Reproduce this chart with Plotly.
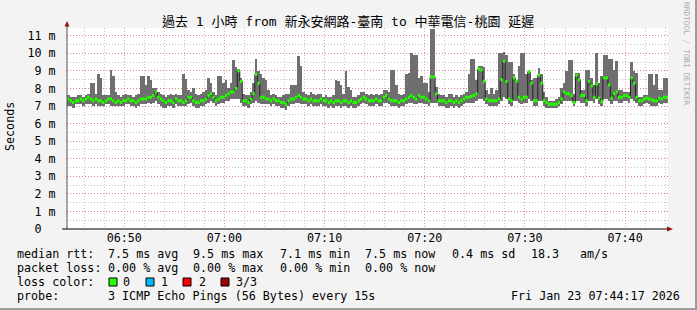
import plotly.graph_objects as go
import pandas as pd

# ---------------- data ----------------
start_time = "2026-01-23 06:44:17"
end_time = "2026-01-23 07:44:17"
step_seconds = 15

median_ms = [
    7.4, 7.3, 7.2, 7.3, 7.3, 7.4, 7.3, 7.4, 7.5, 7.4,
    7.3, 7.4, 7.3, 7.3, 7.2, 7.3, 7.4, 7.4, 7.3, 7.2,
    7.3, 7.2, 7.3, 7.3, 7.4, 7.3, 7.3, 7.2, 7.3, 7.4,
    7.4, 7.4, 7.5, 7.5, 7.6, 7.8, 7.5, 7.4, 7.3, 7.2,
    7.3, 7.3, 7.2, 7.4, 7.3, 7.3, 7.2, 7.3, 7.5, 7.5,
    7.3, 7.2, 7.2, 7.3, 7.3, 7.4, 7.6, 7.7, 7.5, 7.3,
    7.4, 7.5, 7.5, 7.6, 7.7, 7.8, 7.8, 8.0, 9.0, 8.4,
    7.3, 7.3, 7.2, 7.4, 7.7, 8.8, 8.3, 7.5, 7.5, 7.4,
    7.4, 7.3, 7.4, 7.3, 7.3, 7.2, 7.2, 7.1, 7.3, 7.4,
    7.4, 7.5, 7.6, 7.5, 7.4, 7.4, 7.3, 7.4, 7.3, 7.3,
    7.3, 7.4, 7.3, 7.3, 7.2, 7.3, 7.2, 7.3, 7.3, 7.2,
    7.3, 7.3, 7.2, 7.3, 7.2, 7.2, 7.3, 7.4, 7.5, 7.4,
    7.3, 7.3, 7.3, 7.4, 7.3, 7.3, 7.5, 7.6, 7.4, 7.3,
    7.3, 7.3, 7.2, 7.3, 7.3, 7.4, 7.5, 7.6, 7.5, 7.4,
    7.6, 7.5, 7.5, 7.4, 7.3, 8.65, 8.65, 7.7, 7.3, 7.3,
    7.3, 7.2, 7.3, 7.3, 7.2, 7.3, 7.2, 7.3, 7.4, 7.5,
    7.5, 7.55, 7.6, 7.7, 9.1, 9.05, 8.4, 7.4, 7.3, 7.3,
    7.3, 7.3, 7.4, 8.5, 9.55, 8.4, 7.4, 7.3, 8.6, 8.4,
    7.5, 7.4, 7.5, 7.5, 8.95, 8.3, 7.3, 7.3, 8.75, 8.3,
    7.3, 7.2, 7.1, 7.1, 7.1, 7.1, 7.2, 7.4, 7.8, 7.7,
    7.7, 7.6, 7.2, 8.75, 8.5, 7.6, 7.6, 7.3, 8.4, 8.15,
    7.5, 8.25, 7.45, 7.25, 8.6, 8.6, 8.2, 7.45, 7.7, 7.8,
    7.5, 7.5, 7.6, 7.6, 7.5, 8.6, 8.3, 7.5, 7.3, 7.3,
    7.4, 7.45, 7.4, 7.35, 7.3, 7.3, 7.45, 7.4, 7.5, 7.5,
]

min_ms = [
    7.0, 7.0, 6.9, 7.1, 7.1, 7.1, 7.0, 7.1, 7.1, 7.1,
    7.0, 7.1, 7.0, 7.0, 7.0, 7.1, 7.1, 7.0, 7.0, 7.0,
    7.0, 7.0, 7.0, 7.1, 7.1, 7.0, 7.0, 6.9, 7.0, 7.1,
    7.1, 7.1, 7.2, 7.1, 7.2, 7.3, 7.1, 7.0, 6.9, 6.9,
    7.0, 7.0, 6.9, 7.1, 7.0, 7.0, 7.0, 7.0, 7.1, 7.2,
    7.0, 6.9, 6.9, 7.0, 7.0, 7.1, 7.2, 7.3, 7.2, 7.0,
    7.1, 7.2, 7.2, 7.3, 7.3, 7.4, 7.4, 7.4, 7.4, 7.2,
    7.0, 7.0, 6.9, 7.1, 7.2, 7.3, 7.2, 7.1, 7.1, 7.1,
    7.1, 7.0, 7.1, 7.0, 7.0, 6.9, 6.9, 6.8, 7.0, 7.1,
    7.1, 7.2, 7.2, 7.1, 7.1, 7.1, 7.0, 7.1, 7.0, 7.0,
    7.0, 7.1, 7.0, 7.0, 6.9, 7.0, 6.9, 7.0, 7.0, 6.9,
    7.0, 7.0, 6.9, 7.0, 6.9, 6.9, 7.0, 7.1, 7.2, 7.1,
    7.0, 7.0, 7.0, 7.1, 7.0, 7.0, 7.2, 7.2, 7.1, 7.0,
    7.0, 7.0, 6.9, 7.0, 7.0, 7.1, 7.2, 7.2, 7.1, 7.1,
    7.2, 7.2, 7.1, 7.1, 7.0, 7.2, 7.2, 7.2, 7.0, 7.0,
    7.0, 6.9, 6.9, 7.0, 6.9, 7.0, 6.9, 7.0, 7.1, 7.2,
    7.2, 7.2, 7.2, 7.3, 7.4, 7.4, 7.3, 7.1, 7.0, 7.0,
    7.0, 7.0, 7.1, 7.3, 7.5, 7.4, 7.1, 7.0, 7.3, 7.3,
    7.2, 7.1, 7.2, 7.2, 7.4, 7.3, 7.0, 7.0, 7.3, 7.3,
    7.0, 6.9, 6.9, 6.9, 6.9, 6.9, 7.0, 7.1, 7.3, 7.3,
    7.3, 7.3, 7.0, 7.3, 7.3, 7.2, 7.2, 7.0, 7.3, 7.3,
    7.2, 7.4, 7.1, 7.0, 7.4, 7.4, 7.3, 7.1, 7.3, 7.3,
    7.2, 7.2, 7.3, 7.3, 7.2, 7.4, 7.3, 7.2, 7.0, 7.0,
    7.1, 7.2, 7.1, 7.0, 7.0, 7.0, 7.2, 7.1, 7.2, 7.2,
]

max_ms = [
    7.6, 7.5, 7.5, 7.5, 7.6, 7.6, 7.5, 7.6, 7.7, 8.3,
    8.3, 7.7, 8.8, 8.6, 7.6, 7.6, 7.6, 9.05, 8.7, 7.8,
    7.6, 7.5, 7.6, 7.7, 7.6, 7.6, 7.5, 7.6, 7.7, 8.7,
    8.7, 8.2, 8.7, 8.5, 8.0, 8.0, 7.8, 7.7, 7.6, 7.5,
    7.6, 7.7, 7.6, 7.7, 7.6, 7.6, 8.8, 8.55, 7.9, 7.8,
    8.0, 7.7, 7.6, 7.7, 7.8, 7.9, 8.6, 8.3, 7.8, 7.6,
    8.7, 8.7, 8.3, 8.5, 8.0, 8.3, 9.6, 9.2, 9.1, 8.6,
    7.7, 7.6, 7.6, 7.8, 8.3, 9.7, 9.0, 8.8, 8.6, 8.5,
    7.9, 7.6, 7.7, 7.6, 7.5, 7.5, 7.6, 7.7, 7.7, 8.2,
    8.2, 8.2, 9.85, 9.25, 7.8, 7.7, 7.6, 7.8, 7.7, 7.6,
    7.7, 7.7, 7.5, 7.6, 7.5, 7.5, 7.6, 8.5, 8.4, 8.2,
    7.7, 9.0, 8.1, 7.9, 7.5, 7.5, 7.6, 7.8, 7.8, 7.7,
    7.6, 7.7, 7.6, 7.7, 7.6, 7.7, 7.9, 7.9, 7.8, 9.05,
    9.05, 8.2, 7.7, 7.6, 7.7, 8.85, 8.9, 10.0, 9.9, 9.9,
    8.6, 8.7, 8.3, 8.3, 7.8, 11.4, 11.4, 8.1, 7.7, 7.6,
    7.6, 7.5, 7.7, 7.7, 7.5, 7.6, 7.5, 7.6, 7.7, 7.8,
    8.85, 9.7, 9.7, 8.5, 9.25, 9.3, 9.2, 7.9, 7.7, 8.0,
    7.7, 7.9, 10.0, 10.0, 10.1, 9.9, 9.5, 9.5, 8.8, 8.5,
    9.3, 10.0, 10.0, 8.8, 9.0, 8.5, 8.6, 8.6, 9.15, 8.8,
    7.8, 7.5, 7.3, 7.3, 7.3, 7.4, 7.5, 8.0, 8.3, 9.0,
    9.6, 9.6, 7.7, 8.9, 8.9, 7.9, 7.9, 9.05, 9.05, 8.6,
    8.2, 10.0, 8.3, 8.7, 9.9, 9.9, 9.7, 9.7, 9.05, 9.55,
    7.9, 7.9, 7.8, 7.8, 7.8, 9.5, 9.0, 8.9, 7.5, 7.5,
    7.6, 7.6, 8.85, 8.85, 8.2, 8.85, 7.9, 7.9, 8.6, 8.6,
]

y_tick_values = [0, 1, 2, 3, 4, 5, 6, 7, 8, 9, 10, 11]
y_tick_labels = ["0 <span style='color:rgba(0,0,0,0)'>m</span>", "1 m", "2 m",
                 "3 m", "4 m", "5 m", "6 m", "7 m", "8 m", "9 m", "10 m", "11 m"]

title_text = "過去 1 小時 from 新永安網路-臺南 to 中華電信-桃園 延遲"
rtt_stats = ["median rtt:", "7.5 ms avg", "9.5 ms max", "7.1 ms min",
             "7.5 ms now", "0.4 ms sd", "18.3", "am/s"]
loss_stats = ["packet loss:", "0.00 % avg", "0.00 % max", "0.00 % min",
              "0.00 % now"]
loss_levels = ["0", "1", "2", "3/3"]
loss_colors = ["#26ff00", "#00b8ff", "#ff0000", "#a10000"]
probe_text = "3 ICMP Echo Pings (56 Bytes) every 15s"
stamp_text = "Fri Jan 23 07:44:17 2026"

# ---------------- geometry ----------------
W, H = 697, 310
PL, PR, PT, PB = 67, 668, 28, 229   # plot area in pixels
MONO = "DejaVu Sans Mono, Noto Sans CJK TC, monospace"
FS = 11.7


def px(xp):
    return (xp - PL) / (PR - PL)


def py(yp):
    return (PB - yp) / (PB - PT)


t0 = pd.Timestamp(start_time)
step = pd.Timedelta(seconds=step_seconds)
n = len(median_ms)
starts = [t0 + step * i for i in range(n)]
ends = [s + step for s in starts]
centers = [s + step / 2 for s in starts]

fig = go.Figure()

# smoke (min..max of pings)
fig.add_trace(go.Bar(
    x=centers, y=[h - l for h, l in zip(max_ms, min_ms)], base=min_ms,
    width=step_seconds * 1000, marker=dict(color="#6f6f6f", line=dict(width=0)),
    hoverinfo="skip", showlegend=False))

# median connector (dark step line)
fig.add_trace(go.Scatter(
    x=starts + [ends[-1]], y=median_ms + [median_ms[-1]], mode="lines",
    line=dict(color="#202020", width=1, shape="hv"),
    hoverinfo="skip", showlegend=False))

# median coloured by loss (all 0 loss -> green)
gx, gy = [], []
for s, e, m in zip(starts, ends, median_ms):
    gx += [s, e, None]
    gy += [m, m, None]
fig.add_trace(go.Scatter(
    x=gx, y=gy, mode="lines", line=dict(color=loss_colors[0], width=3),
    hoverinfo="skip", showlegend=False))

shapes = []
# axes
shapes.append(dict(type="line", xref="paper", yref="paper", x0=0, x1=0,
                   y0=0, y1=py(24), line=dict(color="#505050", width=1)))
shapes.append(dict(type="line", xref="paper", yref="paper", x0=px(62), x1=px(668),
                   y0=0, y1=0, line=dict(color="#000000", width=1)))
# arrows
shapes.append(dict(type="path", xref="paper", yref="paper",
                   path=f"M {px(64.5)} {py(26.5)} L {px(69.5)} {py(26.5)} L {px(67)} {py(21)} Z",
                   fillcolor="#9a1010", line=dict(width=0)))
shapes.append(dict(type="path", xref="paper", yref="paper",
                   path=f"M {px(667)} {py(226.5)} L {px(667)} {py(231.5)} L {px(673)} {py(229)} Z",
                   fillcolor="#9a1010", line=dict(width=0)))
# frame
shapes.append(dict(type="line", xref="paper", yref="paper", x0=px(696), x1=px(696),
                   y0=py(0), y1=py(310), line=dict(color="#9c9c9c", width=2)))
shapes.append(dict(type="line", xref="paper", yref="paper", x0=px(0), x1=px(697),
                   y0=py(309), y1=py(309), line=dict(color="#9c9c9c", width=2)))
# loss colour boxes
box_x = [109, 146, 183, 221]
lab_x = [122, 160, 198, 235]
for bx, c in zip(box_x, loss_colors):
    shapes.append(dict(type="rect", xref="paper", yref="paper",
                       x0=px(bx), x1=px(bx + 8), y0=py(278), y1=py(286),
                       fillcolor=c, line=dict(color="#000000", width=1)))

ann = []


def text(t, x, y, anchor="left", size=FS, color="#000000", angle=0):
    ann.append(dict(text=t, xref="paper", yref="paper", x=px(x), y=py(y),
                    xanchor=anchor, yanchor="middle", showarrow=False,
                    textangle=angle, borderpad=0,
                    font=dict(family=MONO, size=size, color=color)))


text(title_text, 348, 21, anchor="center", size=13)
text("Seconds", 10, 127, anchor="center", angle=-90)
text("RRDTOOL / TOBI OETIKER", 686, 54, anchor="center", size=7.8,
     color="#aaaaaa", angle=90)

col_x = [16, 107, 192, 279, 364, 451, 530, 579]
for t, x in zip(rtt_stats, col_x):
    text(t, x, 254)
for t, x in zip(loss_stats, col_x):
    text(t, x, 268)
text("loss color:", 16, 282)
for t, x in zip(loss_levels, lab_x):
    text(t, x, 282)
text("probe:", 16, 296)
text(probe_text, 107, 296)
text(stamp_text, 681, 296, anchor="right")

fig.update_layout(
    width=W, height=H,
    margin=dict(l=PL, r=W - PR, t=PT, b=H - PB, pad=0),
    paper_bgcolor="#f3f3f3", plot_bgcolor="#ffffff",
    barmode="overlay", bargap=0, showlegend=False,
    shapes=shapes, annotations=ann,
    font=dict(family=MONO, size=FS, color="#000000"),
    xaxis=dict(
        type="date", range=[start_time, end_time],
        tick0="2026-01-23 06:50:00", dtick=600000, tickformat="%H:%M",
        showgrid=True, gridcolor="rgba(225,90,90,0.6)", griddash="1px,2px", gridwidth=1,
        minor=dict(dtick=120000, showgrid=True, gridcolor="rgba(150,150,150,0.55)",
                   griddash="1px,2px", gridwidth=1),
        ticks="", showline=False, zeroline=False,
        tickfont=dict(family=MONO, size=FS, color="#000000"),
    ),
    yaxis=dict(
        range=[0, (PB - PT) / 17.57],
        tickvals=y_tick_values, ticktext=y_tick_labels,
        showgrid=True, gridcolor="rgba(225,90,90,0.6)", griddash="1px,2px", gridwidth=1,
        minor=dict(dtick=0.5, showgrid=True, gridcolor="rgba(150,150,150,0.55)",
                   griddash="1px,2px", gridwidth=1),
        ticks="outside", ticklen=8, tickcolor="rgba(0,0,0,0)",
        showline=False, zeroline=False,
        tickfont=dict(family=MONO, size=FS, color="#000000"),
    ),
)

fig.write_html("out.html")
